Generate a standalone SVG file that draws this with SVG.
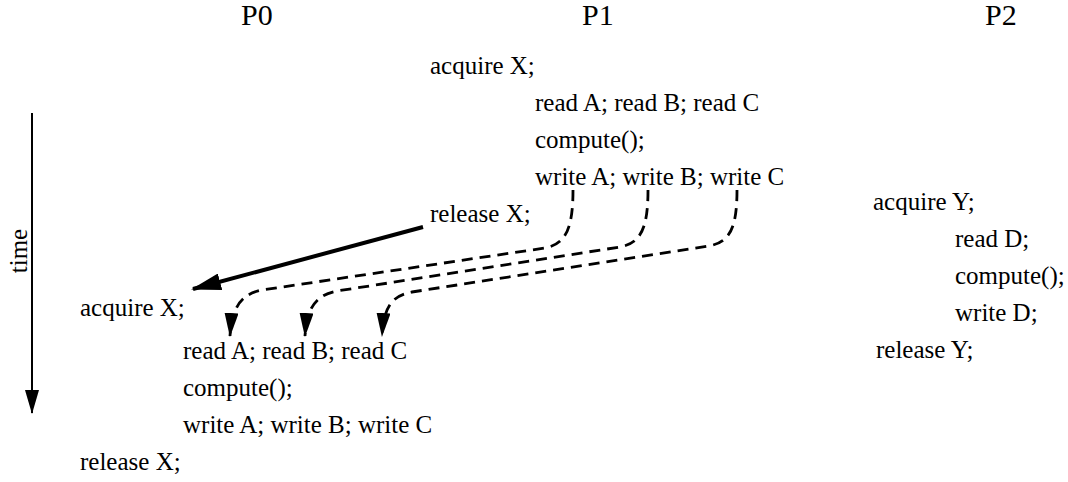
<svg xmlns="http://www.w3.org/2000/svg" width="1068" height="482" viewBox="0 0 1068 482">
  <style>
    text { font-family: "Liberation Serif", "Times New Roman", serif; fill: #000; }
    .hdr { font-size: 30px; }
    .code { font-size: 25px; }
    .solid { fill: none; stroke: #000; stroke-width: 4; }
    .time { fill: none; stroke: #000; stroke-width: 2; }
    .dep { fill: none; stroke: #000; stroke-width: 2.8; stroke-dasharray: 11 7; }
  </style>
  <defs>
    <marker id="headBig" markerUnits="userSpaceOnUse" viewBox="0 0 30 17" refX="28" refY="8.5" markerWidth="30" markerHeight="17" orient="auto">
      <path d="M0,0 L30,8.5 L0,17 Z" fill="#000"/>
    </marker>
    <marker id="headSmall" markerUnits="userSpaceOnUse" viewBox="0 0 24 14" refX="23" refY="7" markerWidth="24" markerHeight="14" orient="auto">
      <path d="M0,0 L24,7 L0,14 Z" fill="#000"/>
    </marker>
  </defs>

  <!-- process headers -->
  <g id="headers">
    <text class="hdr" x="241" y="25">P0</text>
    <text class="hdr" x="582" y="25">P1</text>
    <text class="hdr" x="985" y="25">P2</text>
  </g>

  <!-- time axis -->
  <g id="time-axis">
    <line class="time" x1="32" y1="113" x2="32" y2="413" marker-end="url(#headSmall)"/>
    <text class="code" transform="translate(27,251) rotate(-90)" text-anchor="middle">time</text>
  </g>

  <!-- P0 -->
  <g id="p0">
    <text class="code" x="80" y="316">acquire X;</text>
    <text class="code" x="183" y="359">read A; read B; read C</text>
    <text class="code" x="183" y="396">compute();</text>
    <text class="code" x="183" y="433">write A; write B; write C</text>
    <text class="code" x="80" y="470">release X;</text>
  </g>

  <!-- P1 -->
  <g id="p1">
    <text class="code" x="430" y="74">acquire X;</text>
    <text class="code" x="535" y="111">read A; read B; read C</text>
    <text class="code" x="535" y="148">compute();</text>
    <text class="code" x="535" y="185">write A; write B; write C</text>
    <text class="code" x="430" y="222">release X;</text>
  </g>

  <!-- P2 -->
  <g id="p2">
    <text class="code" x="873" y="210">acquire Y;</text>
    <text class="code" x="955" y="247">read D;</text>
    <text class="code" x="955" y="284">compute();</text>
    <text class="code" x="955" y="321">write D;</text>
    <text class="code" x="876" y="358">release Y;</text>
  </g>

  <!-- lock hand-off and data dependencies -->
  <g id="connectors">
    <line class="solid" x1="423" y1="227" x2="193" y2="289" marker-end="url(#headBig)"/>
    <path class="dep" d="M573,190 C573,228 566,244 545,248 L262,290 C242,294 232,306 230,336" marker-end="url(#headSmall)"/>
    <path class="dep" d="M648,190 C648,228 641,243 620,247 L337,291 C317,295 307,306 305,336" marker-end="url(#headSmall)"/>
    <path class="dep" d="M737,190 C737,228 730,242 709,246 L412,292 C392,296 384,306 382,336" marker-end="url(#headSmall)"/>
  </g>
</svg>
